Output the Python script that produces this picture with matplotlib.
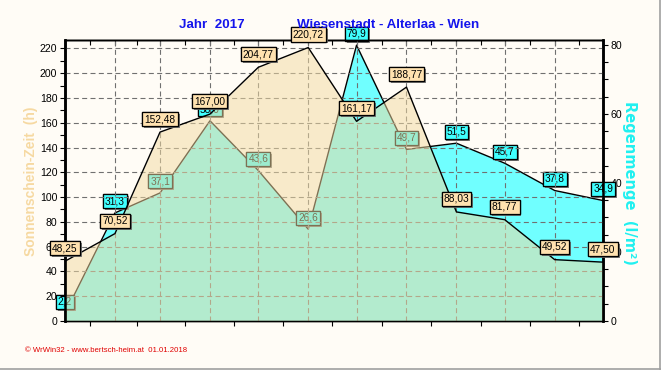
import numpy as np
import matplotlib
matplotlib.use("Agg")
import matplotlib.pyplot as plt
from matplotlib import patheffects as pe
from matplotlib.ticker import MultipleLocator, FixedLocator, NullFormatter
from matplotlib.lines import Line2D

# ---------------- data ----------------
months = ["Jän", "Feb", "Mär", "Apr", "Mai", "Jun", "Jul", "Aug", "Sep", "Okt", "Nov", "Dez"]
days_in_month = [31, 28, 31, 30, 31, 30, 31, 31, 30, 31, 30, 31]
sunshine = [48.25, 70.52, 152.48, 167.00, 204.77, 220.72, 161.17, 188.77, 88.03, 81.77, 49.52, 47.50]
rain = [2.2, 31.3, 37.1, 58.0, 43.6, 26.6, 79.9, 49.7, 51.5, 45.7, 37.8, 34.9]

title_left = "Jahr  2017"
title_right = "Wiesenstadt - Alterlaa - Wien"
ylabel_left = "Sonnenschein-Zeit  (h)"
ylabel_right = "Regenmenge  (l/m²)"
footer = "© WrWin32 - www.bertsch-heim.at  01.01.2018"

# ---------------- style ----------------
BG = "#FFFCF6"
SUN_FILL = (242 / 255, 218 / 255, 162 / 255)
SUN_ALPHA = 0.52
RAIN_FILL = "#70FFFF"
SUN_BOX = "#FFE2B0"
RAIN_BOX = "#40FFFF"
FONT = "Liberation Sans"

plt.rcParams["font.family"] = [FONT, "DejaVu Sans"]

# x positions: start of each month in days
starts = np.concatenate([[0], np.cumsum(days_in_month)[:-1]]).astype(float)
mids = starts[:-1] + np.diff(starts) / 2

fig = plt.figure(figsize=(6.61, 3.70), dpi=100, facecolor=BG)
ax = fig.add_axes([65 / 661, 1 - 321 / 370, (603 - 65) / 661, (321 - 40) / 370])
ax2 = ax.twinx()
ax.set_zorder(ax2.get_zorder() + 1)
ax.patch.set_visible(False)
ax2.patch.set_visible(False)

LEFT_MAX = 226.8
RIGHT_MAX = 81.4
ax.set_xlim(starts[0], starts[-1])
ax.set_ylim(0, LEFT_MAX)
ax2.set_ylim(0, RIGHT_MAX)

LABEL_FS = 7.3
shadow = [pe.withSimplePatchShadow(offset=(1.4, -1.4), shadow_rgbFace="#707070", alpha=0.9), pe.Normal()]

# ---- rain (bottom layer) ----
ax2.fill_between(starts, 0, rain, color=RAIN_FILL, lw=0, zorder=1)
ax2.plot(starts, rain, color="black", lw=1.0, zorder=2)
for xi, v in zip(starts, rain):
    t = ax2.annotate(f"{v:.1f}".replace(".", ","), xy=(xi, v), xytext=(0, 8.3),
                     textcoords="offset points", ha="center", va="center",
                     fontsize=LABEL_FS, color="black", zorder=3, annotation_clip=False,
                     bbox=dict(boxstyle="square,pad=0.2", fc=RAIN_BOX, ec="black", lw=0.9))
    t.get_bbox_patch().set_path_effects(shadow)

# ---- grid (above rain, below sunshine fill) ----
for yv in np.arange(20, 221, 20):
    ax.axhline(yv, color="#707070", lw=0.8, ls=(0, (4.5, 3)), zorder=0.5)
for xv in starts[1:-1]:
    ax.axvline(xv, color="#707070", lw=0.8, ls=(0, (4.5, 3)), zorder=0.5)

# ---- sunshine (top layer) ----
ax.fill_between(starts, 0, sunshine, color=SUN_FILL, alpha=SUN_ALPHA, lw=0, zorder=1)
ax.plot(starts, sunshine, color="black", lw=1.0, zorder=2)
for xi, v in zip(starts, sunshine):
    t = ax.annotate(f"{v:.2f}".replace(".", ","), xy=(xi, v), xytext=(0, 9.4),
                    textcoords="offset points", ha="center", va="center",
                    fontsize=LABEL_FS, color="black", zorder=4, annotation_clip=False,
                    bbox=dict(boxstyle="square,pad=0.2", fc=SUN_BOX, ec="black", lw=0.9))
    t.get_bbox_patch().set_path_effects(shadow)

# ---- axes / ticks ----
for a in (ax, ax2):
    for s in a.spines.values():
        s.set_linewidth(1.0)
    a.spines["left"].set_linewidth(1.8)
    a.spines["right"].set_linewidth(1.8)

ax.xaxis.set_major_locator(FixedLocator(starts))
ax.xaxis.set_minor_locator(FixedLocator(mids))
ax.set_xticklabels(months)
ax.tick_params(axis="x", which="both", direction="out", length=3.5, width=0.8,
               labelsize=7.6, pad=3, top=False)
ax.yaxis.set_major_locator(MultipleLocator(20))
ax.yaxis.set_minor_locator(MultipleLocator(10))
ax.tick_params(axis="y", which="both", direction="out", length=3.5, width=0.8,
               labelsize=7.6, pad=2)
ax2.yaxis.set_major_locator(MultipleLocator(20))
ax2.yaxis.set_minor_locator(MultipleLocator(5))
ax2.tick_params(axis="y", which="both", direction="out", length=3.5, width=0.8,
                labelsize=7.6, pad=2)
ax2.set_xticks([])

# inward month ticks on the top edge
sec = ax.secondary_xaxis("top")
sec.xaxis.set_major_locator(FixedLocator(starts))
sec.xaxis.set_minor_locator(FixedLocator(mids))
sec.xaxis.set_major_formatter(NullFormatter())
sec.tick_params(axis="x", which="both", direction="in", length=3.5, width=0.8)
sec.spines["top"].set_linewidth(1.0)

# ---- texts ----
fig.text(211.5 / 661, 1 - 25 / 370, title_left, color="#1414EC", fontsize=9.6,
         fontweight="bold", ha="center", va="center")
fig.text(388 / 661, 1 - 25 / 370, title_right, color="#1414EC", fontsize=9.6,
         fontweight="bold", ha="center", va="center")
fig.text(31 / 661, 1 - 181 / 370, ylabel_left, color="#F6D9A2", fontsize=10,
         fontweight="bold", rotation=90, ha="center", va="center")
fig.text(629 / 661, 1 - 183 / 370, ylabel_right, color="#20F0F0", fontsize=10.5,
         fontweight="bold", rotation=270, ha="center", va="center",
         family=["DejaVu Sans"])
fig.text(25 / 661, 1 - 351 / 370, footer, color="#E00000", fontsize=5.6,
         ha="left", va="center")

# frame lines at right and bottom edge
fig.add_artist(Line2D([0, 1], [1.5 / 370, 1.5 / 370], transform=fig.transFigure,
                      color="#A0A0A0", lw=1.2))
fig.add_artist(Line2D([1 - 1.5 / 661, 1 - 1.5 / 661], [0, 1], transform=fig.transFigure,
                      color="#A0A0A0", lw=1.2))

fig.savefig("out.png", dpi=100, facecolor=BG)
